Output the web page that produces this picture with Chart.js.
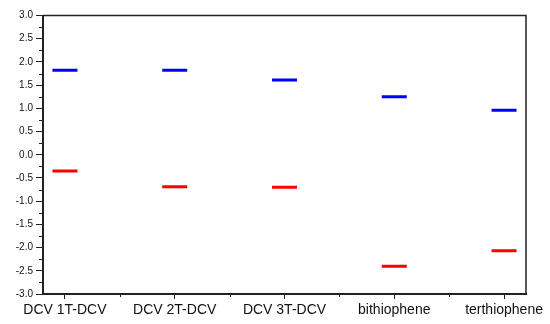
<!DOCTYPE html>
<html>
<head>
<meta charset="utf-8">
<script src="https://cdn.jsdelivr.net/npm/chart.js@4.4.0/dist/chart.umd.min.js"></script>
<style>
  html, body { margin: 0; padding: 0; background: #fff; }
  #wrap { width: 550px; height: 324px; }
</style>
</head>
<body>
<div id="wrap"><canvas id="myChart" width="550" height="324"></canvas></div>
<script>
// molecules along the bottom axis
const molecules = ['DCV 1T-DCV', 'DCV 2T-DCV', 'DCV 3T-DCV', 'bithiophene', 'terthiophene'];
// upper level (blue) and lower level (red)
const upperLevels = [1.82, 1.82, 1.61, 1.25, 0.96];
const lowerLevels = [-0.35, -0.69, -0.70, -2.40, -2.07];
const yTickValues = [-3, -2.5, -2, -1.5, -1, -0.5, 0, 0.5, 1, 1.5, 2, 2.5, 3];

const toPoints = (vals) => vals.map((v, i) => ({ x: i + 1, y: v }));

const axisColor = '#222';

// draws the right/top frame and the minor ticks
const frame = {
  id: 'frame',
  afterDraw(chart) {
    const ctx = chart.ctx;
    const { left, right, top, bottom } = chart.chartArea;
    const xs = chart.scales.x, ys = chart.scales.y;
    ctx.save();
    ctx.strokeStyle = axisColor;
    ctx.lineWidth = 1.5;
    ctx.beginPath();
    ctx.moveTo(left, top);
    ctx.lineTo(right, top);
    ctx.lineTo(right, bottom);
    ctx.stroke();

    ctx.lineWidth = 1;
    ctx.beginPath();
    for (let v = -2.75; v < 3; v += 0.5) {
      const y = Math.round(ys.getPixelForValue(v)) + 0.5;
      ctx.moveTo(left - 4, y);
      ctx.lineTo(left, y);
    }
    for (let i = 1; i < molecules.length; i++) {
      const x = Math.round(xs.getPixelForValue(i + 0.5)) + 0.5;
      ctx.moveTo(x, bottom);
      ctx.lineTo(x, bottom + 3);
    }
    ctx.stroke();
    ctx.restore();
  }
};

new Chart('myChart', {
  type: 'scatter',
  data: {
    datasets: [{
      data: toPoints(upperLevels),
      borderColor: '#0000ff',
      backgroundColor: '#0000ff',
      pointStyle: 'line',
      pointRadius: 12.5,
      pointHoverRadius: 12.5,
      pointBorderWidth: 3,
      showLine: false
    }, {
      data: toPoints(lowerLevels),
      borderColor: '#ff0000',
      backgroundColor: '#ff0000',
      pointStyle: 'line',
      pointRadius: 12.5,
      pointHoverRadius: 12.5,
      pointBorderWidth: 3,
      showLine: false
    }]
  },
  options: {
    responsive: false,
    animation: false,
    events: [],
    layout: { padding: { left: 0, right: 24, top: 11, bottom: 0 } },
    plugins: {
      legend: { display: false },
      tooltip: { enabled: false }
    },
    scales: {
      x: {
        type: 'linear',
        min: 0.8,
        max: 5.2,
        afterBuildTicks: (scale) => {
          scale.ticks = molecules.map((m, i) => ({ value: i + 1 }));
        },
        afterFit: (scale) => { scale.height = 30; },
        ticks: {
          callback: (v) => molecules[Math.round(v) - 1],
          font: { family: 'Liberation Sans, Arial', size: 14 },
          color: '#111',
          padding: 3,
          maxRotation: 0,
          autoSkip: false
        },
        grid: {
          drawOnChartArea: false,
          tickLength: 5,
          tickColor: axisColor,
          tickWidth: 1
        },
        border: { display: true, color: axisColor, width: 2 }
      },
      y: {
        min: -3,
        max: 3,
        afterBuildTicks: (scale) => {
          scale.ticks = yTickValues.map(v => ({ value: v }));
        },
        afterFit: (scale) => { scale.width = 43; },
        ticks: {
          callback: (v) => v.toFixed(1),
          font: { family: 'Liberation Sans, Arial', size: 10 },
          color: '#111',
          padding: 3
        },
        grid: {
          drawOnChartArea: false,
          tickLength: 7,
          tickColor: axisColor,
          tickWidth: 1
        },
        border: { display: true, color: axisColor, width: 2 }
      }
    }
  },
  plugins: [frame]
});
</script>
</body>
</html>
